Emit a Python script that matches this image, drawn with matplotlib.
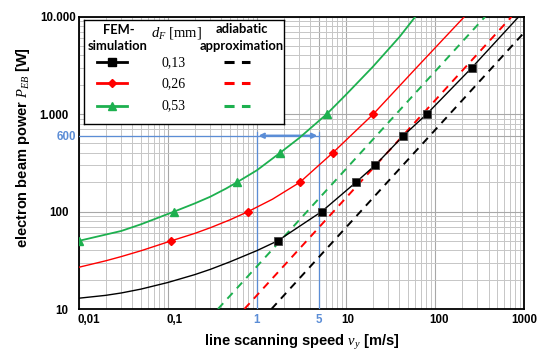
import numpy as np
import matplotlib
matplotlib.use("Agg")
import matplotlib.pyplot as plt
from matplotlib.ticker import LogLocator, NullFormatter
from matplotlib.transforms import ScaledTranslation

plt.rcParams['mathtext.fontset'] = 'custom'
plt.rcParams['mathtext.rm'] = 'Liberation Serif'
plt.rcParams['mathtext.it'] = 'Liberation Serif:italic'

# FEM simulation curves, v in m/s, P in W
v_013 = [0.01, 0.02, 0.03, 0.05, 0.1, 0.2, 0.3, 0.5, 1.0, 1.71, 5.35, 13.0, 21.4, 44.2, 80.8, 260, 873]
P_013 = [12.9, 13.8, 14.6, 16.0, 18.7, 22.5, 25.5, 30.5, 39.7, 50, 100, 200, 300, 600, 1000, 3000, 10000]
v_026 = [0.01, 0.02, 0.03, 0.05, 0.109, 0.2, 0.3, 0.5, 0.8, 1.5, 3.05, 5.0, 7.11, 20.3, 60, 214]
P_026 = [26.8, 31.2, 34.5, 39.6, 50, 59.6, 68.2, 82.3, 100, 134, 200, 300, 400, 1000, 2900, 10000]
v_053 = [0.01, 0.03, 0.05, 0.118, 0.2, 0.3, 0.45, 0.6, 1.0, 1.82, 3.0, 6.09, 10, 20, 40, 60.2]
P_053 = [50, 63.2, 74, 100, 121, 142, 172, 200, 265, 400, 570, 1000, 1580, 3050, 6200, 10000]

# simulated points (markers)
mv_013 = [1.71, 5.35, 13.0, 21.4, 44.2, 80.8, 260]
mP_013 = [50, 100, 200, 300, 600, 1000, 3000]
mv_026 = [0.109, 0.8, 3.05, 7.11, 20.3]
mP_026 = [50, 100, 200, 400, 1000]
mv_053 = [0.01, 0.118, 0.6, 1.82, 6.09]
mP_053 = [50, 100, 200, 400, 1000]

# adiabatic approximation (straight lines, end points)
av_013 = [1.46, 1000]
aP_013 = [10, 6850]
av_026 = [0.725, 725]
aP_026 = [10, 10000]
av_053 = [0.366, 366]
aP_053 = [10, 10000]

d_labels = ['0,13', '0,26', '0,53']
x_ticks = [0.01, 0.1, 1, 5, 10, 100, 1000]
x_ticklabels = ['0,01', '0,1', '1', '5', '10', '100', '1000']
y_ticks = [10, 100, 600, 1000, 10000]
y_ticklabels = ['10', '100', '600', '1.000', '10.000']
P_mark = 600
v_range = [1, 5]

BLACK = '#000000'
RED = '#ff0000'
GREEN = '#1db04f'
BLUE = '#5b8dd6'
colors = [BLACK, RED, GREEN]

fig = plt.figure(figsize=(5.39, 3.54), dpi=100)
ax = fig.add_axes([78.7 / 539, 1 - 309 / 354, 445.3 / 539, 292.3 / 354])
ax.set_xscale('log')
ax.set_yscale('log')
ax.set_xlim(0.01, 1000)
ax.set_ylim(10, 10000)

ax.xaxis.set_minor_locator(LogLocator(base=10, subs=np.arange(2, 10)))
ax.yaxis.set_minor_locator(LogLocator(base=10, subs=np.arange(2, 10)))
ax.xaxis.set_minor_formatter(NullFormatter())
ax.yaxis.set_minor_formatter(NullFormatter())
ax.grid(which='minor', color='#c6c6c6', lw=0.7)
ax.grid(which='major', color='#a8a8a8', lw=0.8)
ax.set_axisbelow(True)

ax.set_xticks(x_ticks)
ax.set_xticklabels(x_ticklabels)
ax.set_yticks(y_ticks)
ax.set_yticklabels(y_ticklabels)
ax.tick_params(which='both', length=0)
ax.tick_params(axis='x', pad=3.5)
ax.tick_params(axis='y', pad=7.5)
for sp in ax.spines.values():
    sp.set_linewidth(1.3)
    sp.set_color('black')

# tick label styling and offsets (px)
x_off = {'0,01': 10, '0,1': 7, '10': 1.5, '100': 4.5, '1000': 0}
for lab in ax.get_xticklabels():
    t = lab.get_text()
    lab.set_fontweight('bold')
    lab.set_fontsize(8.3)
    lab.set_fontfamily('Liberation Sans')
    if t in ('1', '5'):
        lab.set_color(BLUE)
    dx = x_off.get(t, 0) * 0.72 / 72
    lab.set_transform(lab.get_transform() + ScaledTranslation(dx, 0, fig.dpi_scale_trans))
y_off = {'10.000': 8, '600': 8}
for lab in ax.get_yticklabels():
    t = lab.get_text()
    lab.set_fontweight('bold')
    lab.set_fontsize(8.3)
    lab.set_fontfamily('Liberation Sans')
    if t == '600':
        lab.set_color(BLUE)
    dx = y_off.get(t, 0) * 0.72 / 72
    lab.set_transform(lab.get_transform() + ScaledTranslation(dx, 0, fig.dpi_scale_trans))

# blue helper lines
ax.plot([0.01, v_range[1]], [P_mark, P_mark], color=BLUE, lw=0.9, zorder=3)
for v in v_range:
    ax.plot([v, v], [10, 660], color=BLUE, lw=0.9, zorder=3)
ax.annotate('', xy=(v_range[0] * 1.04, P_mark), xytext=(v_range[1] * 0.96, P_mark),
            arrowprops=dict(arrowstyle='<->', color=BLUE, lw=1.7, shrinkA=0, shrinkB=0,
                            mutation_scale=7), zorder=4)

# adiabatic approximations
for vv, pp, c in zip([av_013, av_026, av_053], [aP_013, aP_026, aP_053], colors):
    ax.plot(vv, pp, color=c, lw=1.4, dashes=(4.0, 3.2), zorder=4)

# FEM curves
ax.plot(v_013, P_013, color=BLACK, lw=1.0, zorder=5)
ax.plot(v_026, P_026, color=RED, lw=1.0, zorder=5)
ax.plot(v_053, P_053, color=GREEN, lw=1.3, zorder=5)
ax.plot(mv_013, mP_013, 's', color=BLACK, ms=5.6, mec='#444444', mew=0.6, zorder=6)
ax.plot(mv_026, mP_026, 'D', color=RED, ms=3.8, zorder=6)
ax.plot(mv_053, mP_053, '^', color=GREEN, ms=5.5, zorder=6)

ax.set_xlabel('line scanning speed $v_y$ [m/s]', fontsize=10.5, fontweight='bold',
              fontfamily='Liberation Sans', va='top')
ax.xaxis.set_label_coords(0.5, -0.083)
ax.set_ylabel('electron beam power $P_{EB}$ [W]', fontsize=10.5, fontweight='bold',
              fontfamily='Liberation Sans', va='center')
ax.yaxis.set_label_coords(-0.125, 0.552)

# legend table (pixel units inside the box)
lg = fig.add_axes([84.3 / 539, 1 - 124.3 / 354, 200 / 539, 104.3 / 354])
lg.set_xlim(0, 200)
lg.set_ylim(104.3, 0)
lg.set_xticks([])
lg.set_yticks([])
for sp in lg.spines.values():
    sp.set_linewidth(1.0)
lg.set_zorder(10)
hdr = dict(ha='center', va='center', fontsize=9.3, fontweight='bold', fontfamily='Lato')
lg.text(34.2, 10, 'FEM-', **hdr)
lg.text(33.5, 25.5, 'simulation', **hdr)
lg.text(91.7, 13.3, r'$d_F\ \mathrm{[mm]}$', ha='center', va='center', fontsize=10.5)
lg.text(157.7, 9, 'adiabatic', **hdr)
lg.text(157.7, 25.5, 'approximation', **hdr)
row_y = [42.3, 63.3, 85.7]
markers = [('s', 5.6), ('D', 3.8), ('^', 5.5)]
for y, c, (m, ms), lab in zip(row_y, colors, markers, d_labels):
    lg.plot([12.4, 42.7], [y, y], color=c, lw=2.0)
    lg.plot([27.7], [y], m, color=c, ms=ms)
    lg.text(89, y, lab, ha='center', va='center', fontsize=10, fontfamily='Liberation Serif')
    lg.plot([140, 166], [y, y], color=c, lw=2.2, dashes=(3.3, 2.4), solid_capstyle='butt',
            dash_capstyle='butt')

fig.savefig('out.png', dpi=100)
